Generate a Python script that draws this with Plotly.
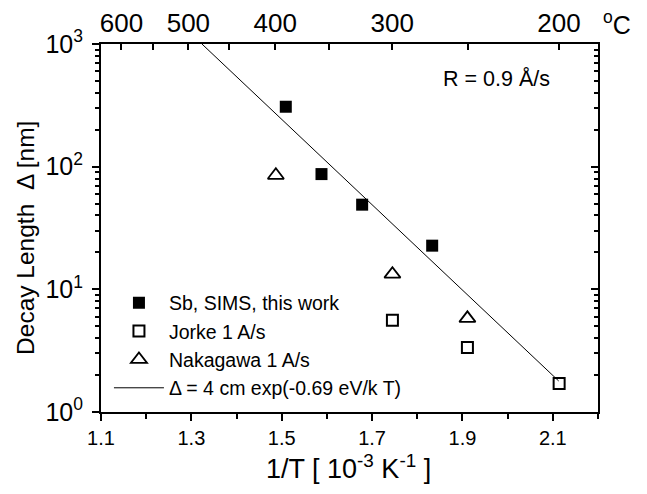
import plotly.graph_objects as go

# ---- data ----
sb_x = [1.509, 1.588, 1.678, 1.833]
sb_y = [308, 87, 49, 22.7]

jorke_x = [1.745, 1.911, 2.114]
jorke_y = [5.6, 3.35, 1.71]

naka_x = [1.487, 1.745, 1.911]
naka_y = [85, 13.3, 5.8]

fit_x = [1.3234, 2.113]
fit_y = [1000, 1.79]

bottom_ticks = [1.1, 1.3, 1.5, 1.7, 1.9, 2.1]
bottom_minor = [1.2, 1.4, 1.6, 1.8, 2.0, 2.2]
temps_c = [600, 550, 500, 450, 400, 350, 300, 250, 200]
temp_labels = ["600", "", "500", "", "400", "", "300", "", "200"]
y_major = [1, 10, 100, 1000]
y_labels = ["10<sup>0</sup>", "10<sup>1</sup>", "10<sup>2</sup>", "10<sup>3</sup>"]
y_minor = [m * d for d in (1, 10, 100) for m in range(2, 10)]

FONT = "Liberation Sans, Arial, Helvetica, sans-serif"

fig = go.Figure()
fig.add_trace(go.Scatter(x=sb_x, y=sb_y, mode="markers", name="Sb, SIMS, this work",
                         marker=dict(symbol="square", size=12, color="black")))
fig.add_trace(go.Scatter(x=jorke_x, y=jorke_y, mode="markers", name="Jorke 1 A/s",
                         marker=dict(symbol="square-open", size=11, color="black",
                                     line=dict(width=2, color="black"))))
fig.add_trace(go.Scatter(x=naka_x, y=naka_y, mode="markers", name="Nakagawa 1 A/s",
                         marker=dict(symbol="triangle-up-open", size=14, color="black",
                                     line=dict(width=1.8, color="black"))))
fig.add_trace(go.Scatter(x=fit_x, y=fit_y, mode="lines",
                         name="\u0394 = 4 cm exp(-0.69 eV/k T)",
                         line=dict(color="black", width=1)))
# top / right axes carrier
fig.add_trace(go.Scatter(x=[1.5], y=[10], xaxis="x2", yaxis="y2", mode="markers",
                         marker=dict(opacity=0), showlegend=False, hoverinfo="skip"))

top_vals = [1000.0 / (t + 273.15) for t in temps_c]

fig.update_layout(
    width=647, height=494,
    margin=dict(l=93, r=57, t=36, b=90),
    paper_bgcolor="white", plot_bgcolor="white",
    font=dict(family=FONT, color="black"),
    showlegend=True,
    legend=dict(x=0.016, y=0.349, xanchor="left", yanchor="top",
                bgcolor="rgba(0,0,0,0)", font=dict(size=19.5, family=FONT),
                itemwidth=50, tracegroupgap=0),
    xaxis=dict(range=[1.1, 2.2], tickvals=bottom_ticks,
               ticktext=[f"{v:.1f}" for v in bottom_ticks],
               ticks="outside", ticklen=7, tickwidth=2, tickcolor="black",
               minor=dict(tickvals=bottom_minor, ticks="outside", ticklen=5,
                          tickwidth=2, tickcolor="black"),
               showline=True, linewidth=2, linecolor="black", showgrid=False,
               zeroline=False, tickfont=dict(size=20), automargin=False),
    xaxis2=dict(range=[1.1, 2.2], overlaying="x", side="top", anchor="y",
                tickvals=top_vals, ticktext=temp_labels,
                ticks="inside", ticklen=6, tickwidth=2, tickcolor="black",
                showline=True, linewidth=2, linecolor="black", showgrid=False,
                zeroline=False, tickfont=dict(size=26), automargin=False),
    yaxis=dict(type="log", range=[0, 3], tickvals=y_major, ticktext=y_labels,
               ticks="outside", ticklen=7, tickwidth=2, tickcolor="black",
               minor=dict(tickvals=y_minor, ticks="outside", ticklen=4,
                          tickwidth=1.5, tickcolor="black"),
               showline=True, linewidth=2, linecolor="black", showgrid=False,
               zeroline=False, tickfont=dict(size=25), automargin=False,
               ticklabelstandoff=4),
    yaxis2=dict(type="log", range=[0, 3], overlaying="y", side="right", anchor="x",
                tickvals=y_major, showticklabels=False,
                ticks="inside", ticklen=7, tickwidth=2, tickcolor="black",
                minor=dict(tickvals=y_minor, ticks="inside", ticklen=4,
                           tickwidth=1.5, tickcolor="black"),
                showline=True, linewidth=2, linecolor="black", showgrid=False,
                zeroline=False, automargin=False),
    annotations=[
        dict(text="R = 0.9 \u00c5/s", xref="paper", yref="paper",
             x=0.907, y=0.905, xanchor="right", yanchor="middle",
             showarrow=False, font=dict(size=21.5)),
        dict(text="<sup>o</sup>C", xref="paper", yref="paper",
             x=1.006, y=1.0, xanchor="left", yanchor="bottom", yshift=3,
             showarrow=False, font=dict(size=25)),
        dict(text="Decay Length  \u0394 [nm]", xref="paper", yref="paper",
             x=-0.151, y=0.473, xanchor="center", yanchor="middle",
             textangle=-90, showarrow=False, font=dict(size=24.5)),
        dict(text="1/T [ 10<sup>-3</sup> K<sup>-1</sup> ]", xref="paper", yref="paper",
             x=0.4985, y=-0.15, xanchor="center", yanchor="middle",
             showarrow=False, font=dict(size=27)),
    ],
)

fig.write_html("out.html")
